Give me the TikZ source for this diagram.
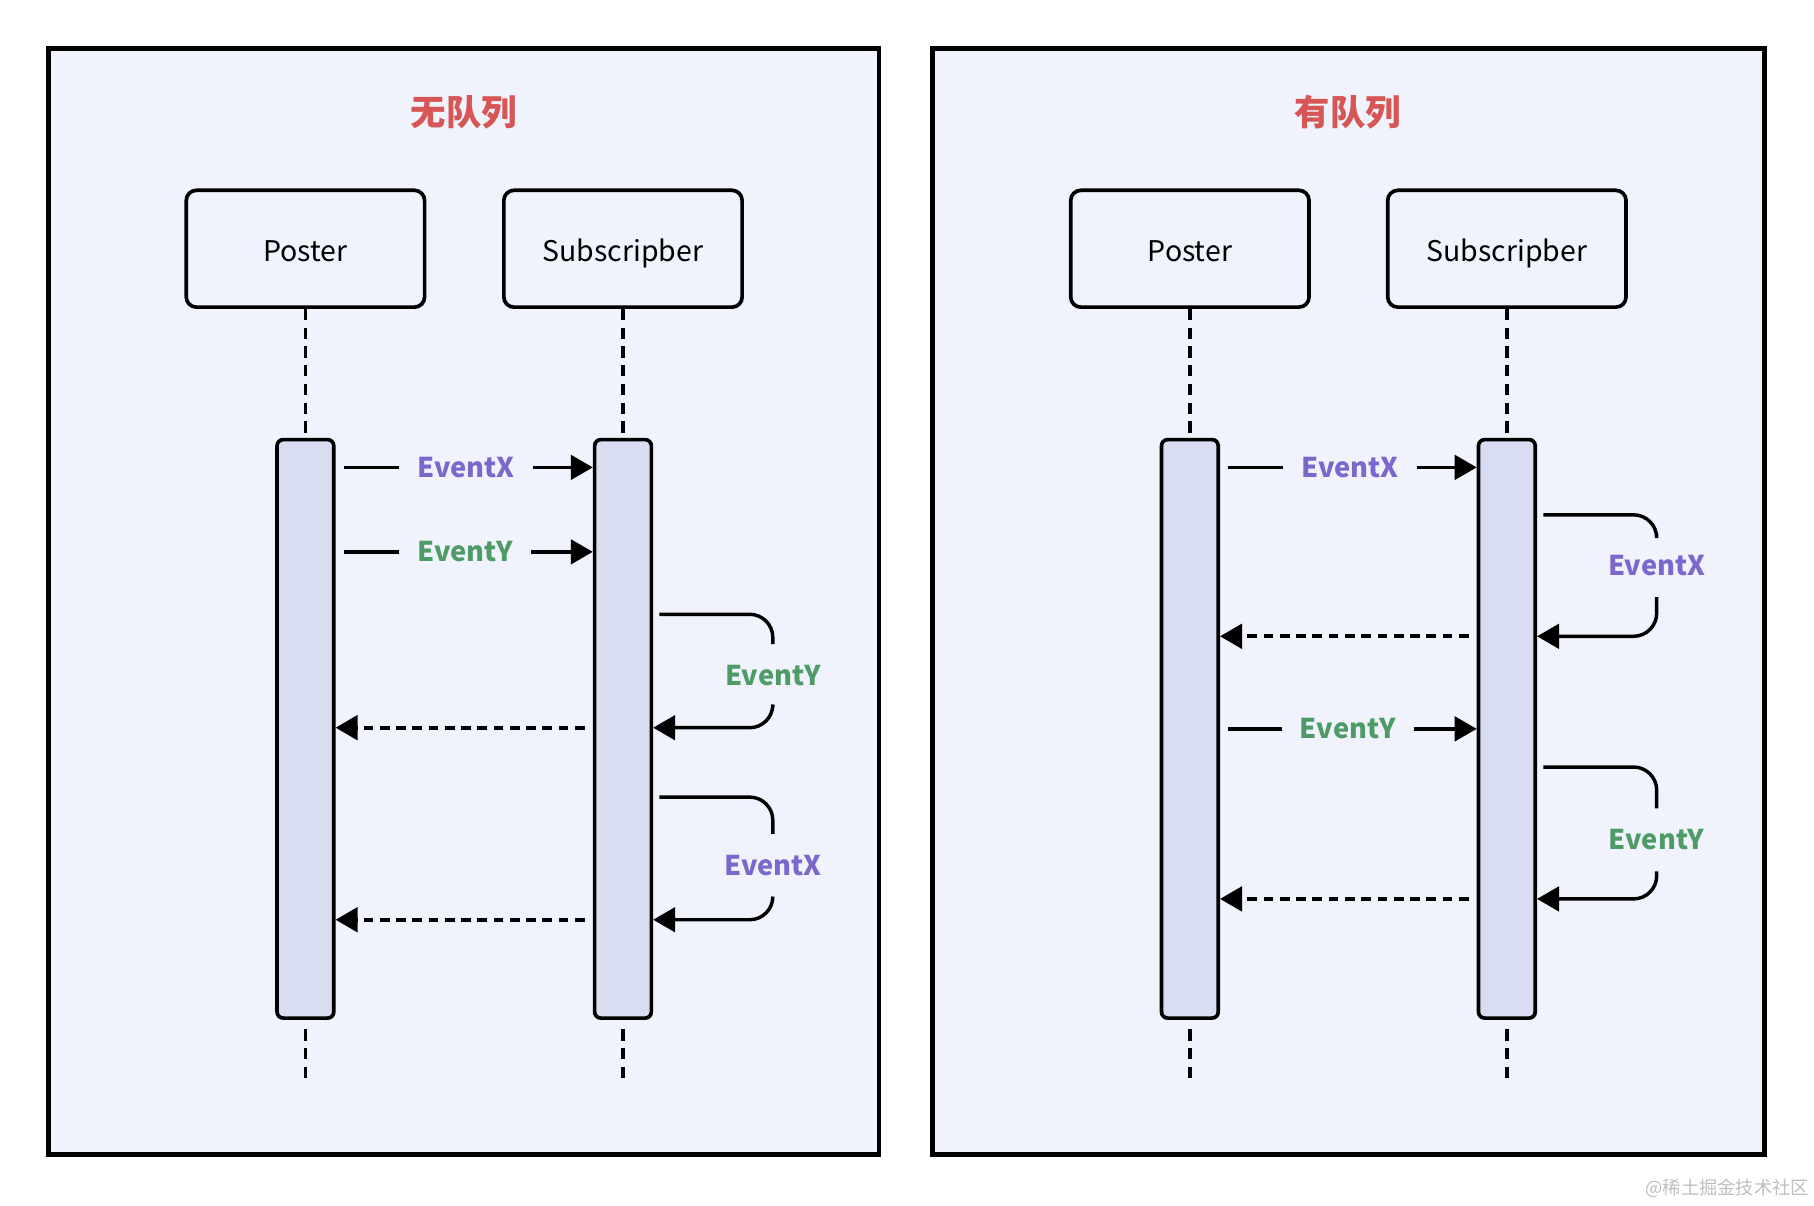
\documentclass[tikz,border=0pt]{standalone}
\usepackage{fontspec}
\setmainfont{Noto Sans CJK SC}
\usetikzlibrary{positioning, arrows.meta}

\definecolor{panelbg}{RGB}{240,243,251}
\definecolor{barfill}{RGB}{216,221,241}
\definecolor{titlered}{RGB}{214,86,86}
\definecolor{evxcol}{RGB}{124,104,204}
\definecolor{evycol}{RGB}{78,155,104}

\tikzset{
  panel/.style={draw, line width=1.1pt, fill=panelbg},
  title/.style={text=titlered, font=\bfseries\fontsize{8.7}{10}\selectfont},
  actor/.style={draw, line width=0.9pt, rounded corners=2.5pt, minimum width=2.06cm, minimum height=1.01cm, text height=1.6ex, text depth=0.45ex, font=\fontsize{7}{9}\selectfont},
  bar/.style={draw, line width=0.9pt, rounded corners=1.5pt, fill=barfill, minimum width=0.49cm, minimum height=5cm},
  life/.style={line width=0.9pt, dash pattern=on 2.8pt off 1.8pt},
  msg/.style={line width=0.85pt},
  ret/.style={line width=0.95pt, dash pattern=on 2.4pt off 1.6pt},
  tip/.style={-{Triangle[length=5.4pt,width=6pt]}},
  evx/.style={text=evxcol, font=\bfseries\fontsize{6.7}{8}\selectfont, inner xsep=0.15cm},
  evy/.style={text=evycol, font=\bfseries\fontsize{6.7}{8}\selectfont, inner xsep=0.15cm},
  loop/.style={minimum height=0.53cm, inner ysep=0pt},
  loopline/.style={msg, rounded corners=0.2cm}
}

\begin{document}
\begin{tikzpicture}
  \useasboundingbox (0,0) rectangle (15.68,-10.42);

  % left: no queue
  \draw[panel] (0.42,-0.42) rectangle (7.60,-9.98);
  \node[title] (ltitle) at (4.01,-0.97) {无队列};
  \node[actor] (lposter) at (2.64,-2.15) {Poster};
  \node[actor] (lsub) at (5.385,-2.15) {Subscripber};
  \node[bar] (lpb) at (2.64,-6.30) {};
  \node[bar] (lsb) at (5.385,-6.30) {};
  \coordinate (lpend) at (2.64,-9.37);
  \coordinate (lsend) at (5.385,-9.37);
  \draw[life] (lposter) -- (lpb);
  \draw[life] (lsub) -- (lsb);
  \draw[life] ([yshift=-0.08cm]lpb.south) -- (lpend);
  \draw[life] ([yshift=-0.08cm]lsb.south) -- (lsend);

  \node[evx] (lm1) at (4.03,-4.04) {EventX};
  \draw[msg] ([xshift=0.07cm]lpb.east |- lm1) -- (lm1);
  \draw[msg, tip] (lm1) -- (lsb.west |- lm1);
  \node[evy] (lm2) at (4.02,-4.77) {EventY};
  \draw[msg] ([xshift=0.07cm]lpb.east |- lm2) -- (lm2);
  \draw[msg, tip] (lm2) -- (lsb.west |- lm2);

  \coordinate (lc1) at (5.70,-5.31);
  \coordinate (lr1) at (0,-6.29);
  \node[evy, loop] (ll1) at (6.68,-5.84) {EventY};
  \draw[loopline] (lc1) -| (ll1.north);
  \draw[loopline, tip] (ll1.south) |- (lsb.east |- lr1);
  \draw[ret, tip] ([xshift=-0.07cm]lsb.west |- lr1) -- (lpb.east |- lr1);

  \coordinate (lc2) at (5.70,-6.89);
  \coordinate (lr2) at (0,-7.95);
  \node[evx, loop] (ll2) at (6.68,-7.48) {EventX};
  \draw[loopline] (lc2) -| (ll2.north);
  \draw[loopline, tip] (ll2.south) |- (lsb.east |- lr2);
  \draw[ret, tip] ([xshift=-0.07cm]lsb.west |- lr2) -- (lpb.east |- lr2);

  % right: with queue
  \draw[panel] (8.06,-0.42) rectangle (15.25,-9.98);
  \node[title] (rtitle) at (11.65,-0.97) {有队列};
  \node[actor] (rposter) at (10.285,-2.15) {Poster};
  \node[actor] (rsub) at (13.025,-2.15) {Subscripber};
  \node[bar] (rpb) at (10.285,-6.30) {};
  \node[bar] (rsb) at (13.025,-6.30) {};
  \coordinate (rpend) at (10.285,-9.37);
  \coordinate (rsend) at (13.025,-9.37);
  \draw[life] (rposter) -- (rpb);
  \draw[life] (rsub) -- (rsb);
  \draw[life] ([yshift=-0.08cm]rpb.south) -- (rpend);
  \draw[life] ([yshift=-0.08cm]rsb.south) -- (rsend);

  \node[evx] (rm1) at (11.67,-4.04) {EventX};
  \draw[msg] ([xshift=0.07cm]rpb.east |- rm1) -- (rm1);
  \draw[msg, tip] (rm1) -- (rsb.west |- rm1);

  \coordinate (rc1) at (13.34,-4.45);
  \coordinate (rr1) at (0,-5.50);
  \node[evx, loop] (rl1) at (14.32,-4.89) {EventX};
  \draw[loopline] (rc1) -| (rl1.north);
  \draw[loopline, tip] (rl1.south) |- (rsb.east |- rr1);
  \draw[ret, tip] ([xshift=-0.07cm]rsb.west |- rr1) -- (rpb.east |- rr1);

  \node[evy] (rm2) at (11.65,-6.30) {EventY};
  \draw[msg] ([xshift=0.07cm]rpb.east |- rm2) -- (rm2);
  \draw[msg, tip] (rm2) -- (rsb.west |- rm2);

  \coordinate (rc2) at (13.34,-6.63);
  \coordinate (rr2) at (0,-7.77);
  \node[evy, loop] (rl2) at (14.32,-7.26) {EventY};
  \draw[loopline] (rc2) -| (rl2.north);
  \draw[loopline, tip] (rl2.south) |- (rsb.east |- rr2);
  \draw[ret, tip] ([xshift=-0.07cm]rsb.west |- rr2) -- (rpb.east |- rr2);

  \node[text=black!25, font=\fontsize{4.5}{5}\selectfont] (mark) at (14.93,-10.27) {@稀土掘金技术社区};
\end{tikzpicture}
\end{document}
